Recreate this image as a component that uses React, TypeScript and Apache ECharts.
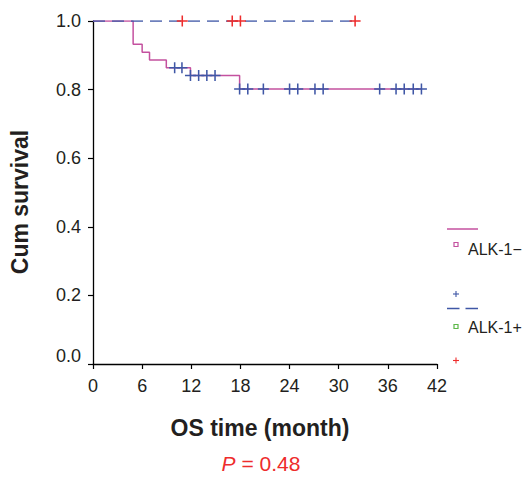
import React, { useEffect, useRef } from "react";
import * as echarts from "echarts";

// ALK-1− group (pink solid line, blue censor marks)
const negTimes = [0, 4.9, 6.0, 6.9, 8.95, 11.9, 17.9, 40.1];
const negSurv = [1.0, 0.932, 0.909, 0.886, 0.864, 0.841, 0.802, 0.802];
const negCensorTimes = [9.97, 10.86, 11.9, 12.9, 13.9, 14.9, 17.9, 18.9, 20.8, 24.0, 25.0, 27.1, 28.1, 35.0, 37.0, 38.0, 39.1, 40.1];

// ALK-1+ group (blue dashed line, red censor marks)
const posTimes = [0, 32.0];
const posSurv = [1.0, 1.0];
const posCensorTimes = [10.9, 17.0, 18.0, 32.0];

const xTicks = [0, 6, 12, 18, 24, 30, 36, 42];
const yTicks = [0, 0.2, 0.4, 0.6, 0.8, 1.0];

const PINK = "#c4519f";
const BLUE = "#3f57a6";
const RED = "#ee2c2c";
const GREEN = "#5cb848";
const TXT = "#231f20";

function survAt(times: number[], surv: number[], t: number) {
  let v = surv[0];
  for (let i = 0; i < times.length; i++) if (times[i] <= t) v = surv[i];
  return v;
}

const PLUS = "path://M0,4.3H4.3V0H5.7V4.3H10V5.7H5.7V10H4.3V5.7H0Z";

export default function App() {
  const ref = useRef<HTMLDivElement>(null);
  useEffect(() => {
    if (!ref.current) return;
    const chart = echarts.init(ref.current, null, { renderer: "svg" });
    const font = "Liberation Sans, Arial, sans-serif";
    chart.setOption({
      animation: false,
      backgroundColor: "#ffffff",
      grid: { left: 93, right: 94, top: 21, bottom: 113 },
      xAxis: {
        type: "value",
        min: xTicks[0],
        max: xTicks[xTicks.length - 1],
        interval: 6,
        axisLine: { show: true, lineStyle: { color: "#000", width: 1.3 } },
        axisTick: { show: true, length: 5, lineStyle: { color: "#000", width: 1.2 } },
        axisLabel: { color: TXT, fontSize: 18, fontFamily: font, margin: 13 },
        splitLine: { show: false },
      },
      yAxis: {
        type: "value",
        min: yTicks[0],
        max: yTicks[yTicks.length - 1],
        interval: 0.2,
        axisLine: { show: true, lineStyle: { color: "#000", width: 1.3 } },
        axisTick: { show: true, length: 5, lineStyle: { color: "#000", width: 1.2 } },
        axisLabel: {
          color: TXT,
          fontSize: 18,
          fontFamily: font,
          margin: 12,
          formatter: (v: number) => (v === 0 ? "{z|0.0}" : v.toFixed(1)),
          rich: { z: { color: TXT, fontSize: 18, fontFamily: font, padding: [0, 0, 17, 0] } },
        },
        splitLine: { show: false },
      },
      series: [
        {
          type: "line",
          step: "end",
          data: negTimes.map((t, i) => [t, negSurv[i]]),
          showSymbol: false,
          lineStyle: { color: PINK, width: 1.5 },
          z: 2,
        },
        {
          type: "line",
          data: posTimes.map((t, i) => [t, posSurv[i]]),
          showSymbol: false,
          lineStyle: { color: BLUE, width: 1.6, type: [12, 7] },
          z: 3,
        },
        {
          type: "scatter",
          data: negCensorTimes.map((t) => [t, survAt(negTimes, negSurv, t)]),
          symbol: PLUS,
          symbolSize: 11,
          itemStyle: { color: BLUE, opacity: 1 },
          z: 4,
        },
        {
          type: "scatter",
          data: posCensorTimes.map((t) => [t, survAt(posTimes, posSurv, t)]),
          symbol: PLUS,
          symbolSize: 11,
          itemStyle: { color: RED, opacity: 1 },
          z: 5,
        },
      ],
      graphic: [
        {
          type: "text",
          x: 20,
          y: 202,
          rotation: Math.PI / 2,
          style: {
            text: "Cum survival",
            font: `bold 23px ${font}`,
            fill: TXT,
            align: "center",
            verticalAlign: "middle",
          },
        },
        {
          type: "text",
          x: 260,
          y: 428,
          style: {
            text: "OS time (month)",
            font: `bold 23px ${font}`,
            fill: TXT,
            align: "center",
            verticalAlign: "middle",
          },
        },
        {
          type: "text",
          x: 261,
          y: 463,
          style: {
            text: "{i|P} = 0.48",
            font: `21px ${font}`,
            fill: RED,
            align: "center",
            verticalAlign: "middle",
            rich: { i: { fontStyle: "italic", fontSize: 21, fontFamily: font, fill: RED } },
          },
        },
        // legend: ALK-1−
        { type: "line", shape: { x1: 447, y1: 229, x2: 478, y2: 229 }, style: { stroke: PINK, lineWidth: 1.5 } },
        { type: "rect", shape: { x: 454, y: 242.5, width: 4, height: 4 }, style: { fill: "#fff", stroke: PINK, lineWidth: 1.2 } },
        {
          type: "text",
          x: 468,
          y: 249,
          style: { text: "ALK-1−", font: `16px ${font}`, fill: TXT, verticalAlign: "middle" },
        },
        { type: "line", shape: { x1: 453, y1: 294, x2: 459, y2: 294 }, style: { stroke: BLUE, lineWidth: 1.1 } },
        { type: "line", shape: { x1: 456, y1: 291, x2: 456, y2: 297 }, style: { stroke: BLUE, lineWidth: 1.1 } },
        // legend: ALK-1+
        { type: "line", shape: { x1: 447, y1: 308.5, x2: 459.5, y2: 308.5 }, style: { stroke: BLUE, lineWidth: 1.5 } },
        { type: "line", shape: { x1: 465.5, y1: 308.5, x2: 478, y2: 308.5 }, style: { stroke: BLUE, lineWidth: 1.5 } },
        { type: "rect", shape: { x: 454, y: 324.5, width: 4, height: 4 }, style: { fill: "#fff", stroke: GREEN, lineWidth: 1.2 } },
        {
          type: "text",
          x: 468,
          y: 327,
          style: { text: "ALK-1+", font: `16px ${font}`, fill: TXT, verticalAlign: "middle" },
        },
        { type: "line", shape: { x1: 453, y1: 360.5, x2: 459, y2: 360.5 }, style: { stroke: RED, lineWidth: 1.1 } },
        { type: "line", shape: { x1: 456, y1: 357.5, x2: 456, y2: 363.5 }, style: { stroke: RED, lineWidth: 1.1 } },
      ],
    });
    return () => chart.dispose();
  }, []);
  return (
    <div
      ref={ref}
      style={{ position: "fixed", left: 0, top: 0, width: 531, height: 477, background: "#fff" }}
    />
  );
}
